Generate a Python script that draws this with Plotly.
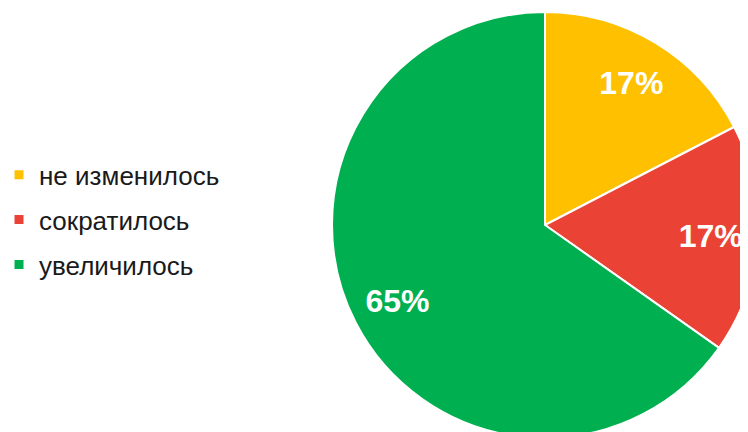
import plotly.graph_objects as go

categories = ["не изменилось", "сократилось", "увеличилось"]
values = [8, 8, 30]
colors = ["#FFC000", "#EA4335", "#00B050"]

W, H = 768, 448
cx, cy, r = 537, 217, 213
dom = dict(x=[(cx - r) / W, (cx + r) / W], y=[1 - (cy + r) / H, 1 - (cy - r) / H])

fig = go.Figure()
# filled slices
fig.add_trace(go.Pie(
    labels=categories, values=values, sort=False, direction="clockwise", rotation=0,
    marker=dict(colors=colors, line=dict(color="white", width=2)),
    textinfo="none", domain=dom, showlegend=False, hoverinfo="label+percent",
))
# percentage labels placed in an outer ring (like the reference)
fig.add_trace(go.Pie(
    labels=categories, values=values, sort=False, direction="clockwise", rotation=0,
    hole=0.56, marker=dict(colors=["rgba(0,0,0,0)"] * len(values), line=dict(width=0)),
    texttemplate="%{percent:.0%}", textposition="inside", insidetextorientation="horizontal",
    textfont=dict(family="Liberation Sans, Arial", size=32, color="white", weight="bold"),
    domain=dom, showlegend=False, hoverinfo="skip",
))
# legend entries
for name, c in zip(categories, colors):
    fig.add_trace(go.Scatter(
        x=[None], y=[None], mode="markers", name=name, legendgroup=name,
        marker=dict(symbol="square", size=9, color=c),
    ))

fig.update_layout(
    width=W, height=H, margin=dict(l=0, r=0, t=0, b=0, autoexpand=False),
    paper_bgcolor="white", plot_bgcolor="white",
    xaxis=dict(visible=False), yaxis=dict(visible=False),
    legend=dict(x=-0.0117, y=0.527, yanchor="middle", xanchor="left",
                font=dict(family="Liberation Sans, Arial", size=26, color="#1a1a1a"),
                itemsizing="trace", tracegroupgap=8, bgcolor="rgba(0,0,0,0)"),
    font=dict(family="Liberation Sans, Arial"),
)
fig.write_html("out.html")
